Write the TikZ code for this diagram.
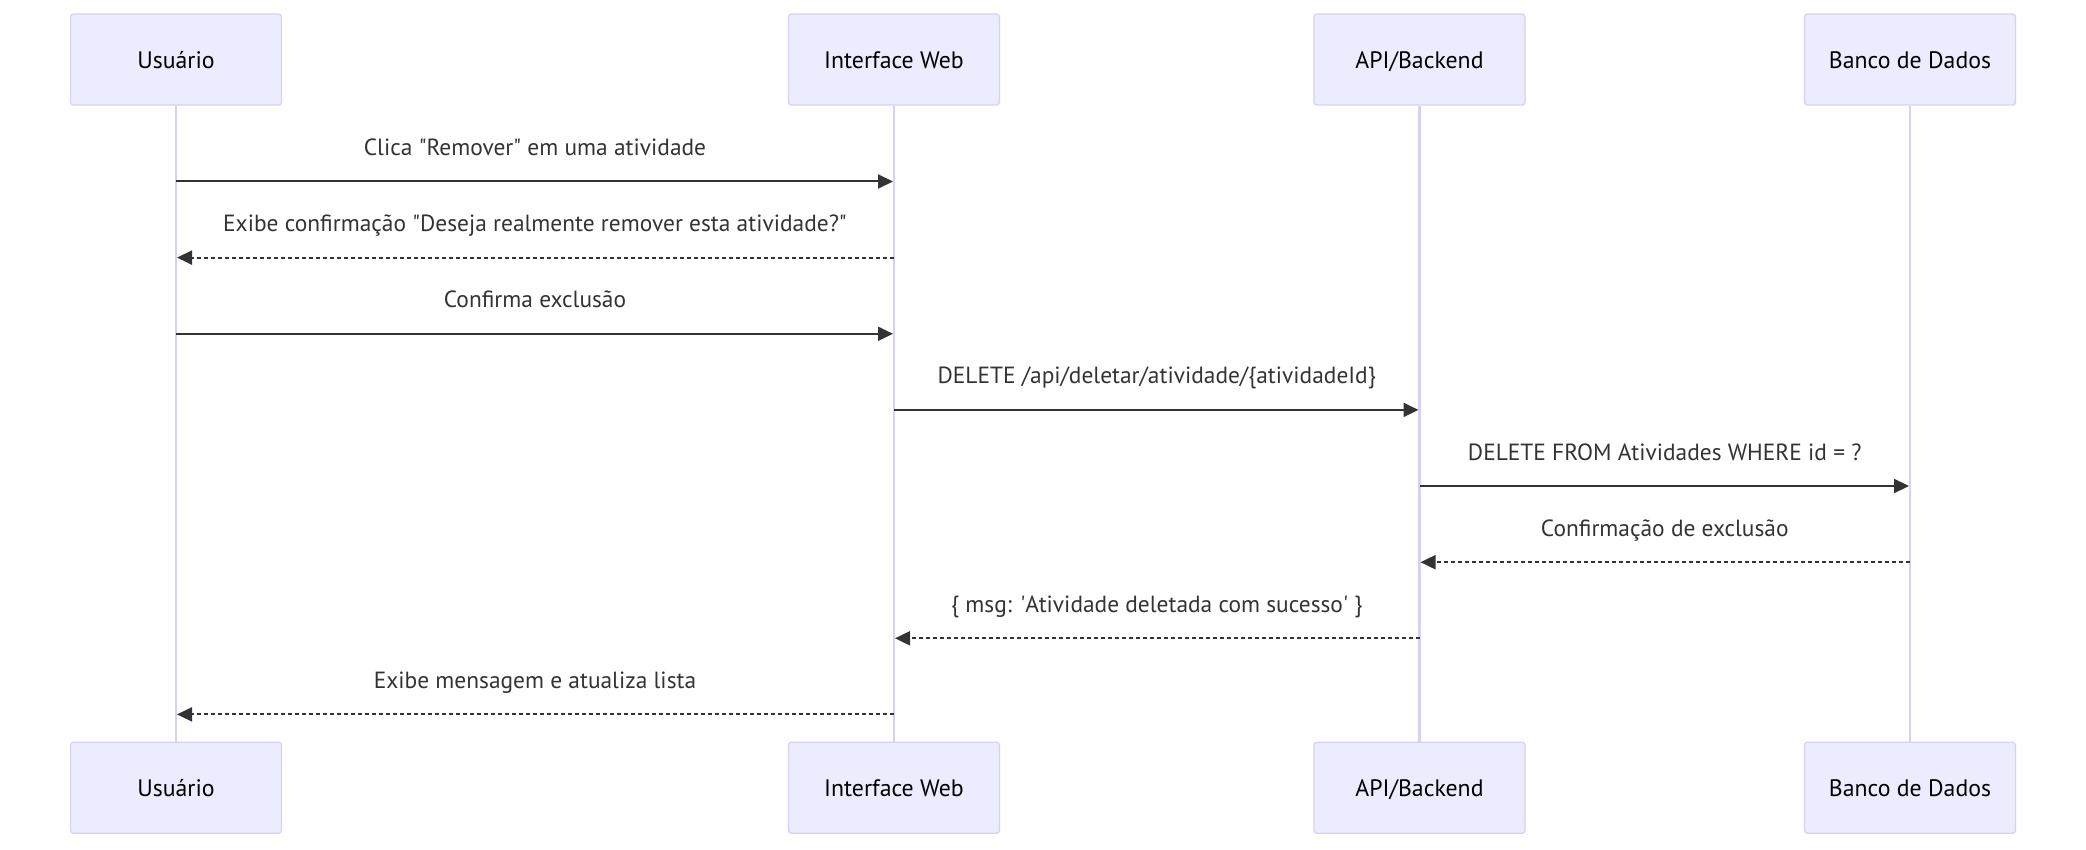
\documentclass[tikz,border=0pt]{standalone}
\usepackage{fontspec}
\setmainfont{PT Sans}
\usetikzlibrary{arrows.meta}
\definecolor{actorfill}{HTML}{ECECFF}
\definecolor{actorline}{HTML}{D9CFF3}
\definecolor{msgline}{HTML}{333333}

\tikzset{
	actor/.style={draw=actorline, line width=1.3pt, fill=actorfill, rounded corners=3pt,
		minimum width=211pt, minimum height=91pt, inner sep=0pt, text height=18pt, text depth=0pt,
		font=\fontsize{23.8}{28}\selectfont, text=black},
	lifeline/.style={draw=actorline, line width=2.7pt},
	msg/.style={draw=msgline, line width=2pt, -{Triangle[length=15pt,width=14pt]}, shorten >=1pt},
	reply/.style={msg, dash pattern=on 4pt off 3pt},
	msglabel/.style={midway, anchor=base, yshift=26pt, inner sep=0pt, text=msgline,
		font=\fontsize{23.4}{28}\selectfont}
}

\begin{document}
\begin{tikzpicture}[x=1pt, y=-1pt]
		%%%%% START %%%%%
		\useasboundingbox (0, 0) rectangle (2086, 850);
		
		\node[actor] (usr) at (176, 59.5) {Usuário};
		\node[actor] (web) at (894, 59.5) {Interface Web};
		\node[actor] (api) at (1419.5, 59.5) {API/Backend};
		\node[actor] (db) at (1910, 59.5) {Banco de Dados};
		
		\node[actor] (usrB) at (176, 787.8) {Usuário};
		\node[actor] (webB) at (894, 787.8) {Interface Web};
		\node[actor] (apiB) at (1419.5, 787.8) {API/Backend};
		\node[actor] (dbB) at (1910, 787.8) {Banco de Dados};
		
		\draw[lifeline] (usr.south) -- (usrB.north);
		\draw[lifeline] (web.south) -- (webB.north);
		\draw[lifeline] (api.south) -- (apiB.north);
		\draw[lifeline] (db.south) -- (dbB.north);
		
		\draw[msg] (usr.south |- 0, 181.5) -- node[msglabel] (m1) {Clica \textquotedbl Remover\textquotedbl\ em uma atividade} (web.south |- 0, 181.5);
		\draw[reply] (web.south |- 0, 257.6) -- node[msglabel] (m2) {Exibe confirmação \textquotedbl Deseja realmente remover esta atividade?\textquotedbl} (usr.south |- 0, 257.6);
		\draw[msg] (usr.south |- 0, 333.8) -- node[msglabel] (m3) {Confirma exclusão} (web.south |- 0, 333.8);
		\draw[msg] (web.south |- 0, 409.9) -- node[msglabel] (m4) {DELETE /api/deletar/atividade/\{atividadeId\}} (api.south |- 0, 409.9);
		\draw[msg] (api.south |- 0, 486.0) -- node[msglabel] (m5) {DELETE FROM Atividades WHERE id = ?} (db.south |- 0, 486.0);
		\draw[reply] (db.south |- 0, 562.2) -- node[msglabel] (m6) {Confirmação de exclusão} (api.south |- 0, 562.2);
		\draw[reply] (api.south |- 0, 638.3) -- node[msglabel] (m7) {\{ msg: \textquotesingle Atividade deletada com sucesso\textquotesingle\ \}} (web.south |- 0, 638.3);
		\draw[reply] (web.south |- 0, 714.4) -- node[msglabel] (m8) {Exibe mensagem e atualiza lista} (usr.south |- 0, 714.4);
		
		%%%%% END %%%%%
	\end{tikzpicture}
\end{document}
